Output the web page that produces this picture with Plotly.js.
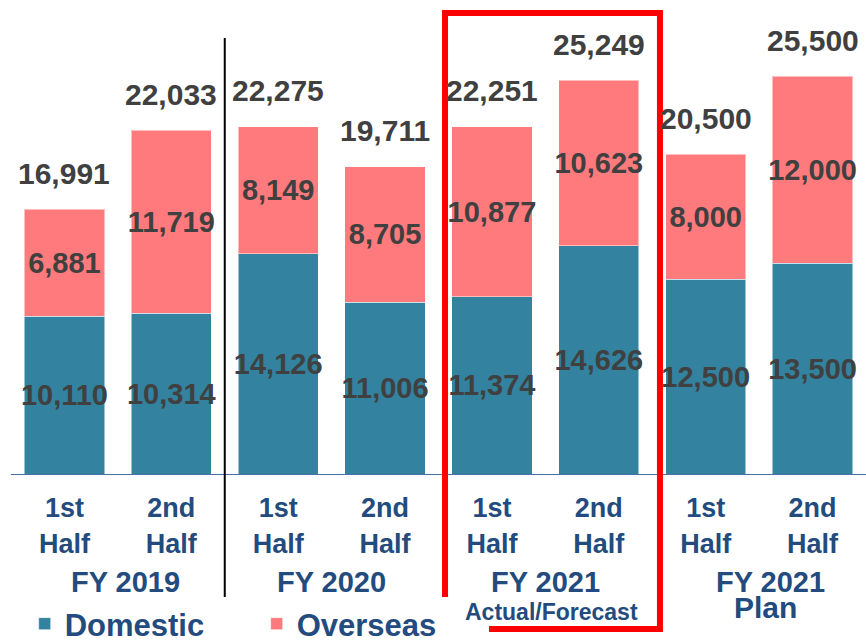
<!DOCTYPE html>
<html>
<head>
<meta charset="utf-8">
<script src="https://cdn.plot.ly/plotly-3.0.1.min.js"></script>
<style>body{margin:0;padding:0;background:#fff}#chart{width:866px;height:640px}</style>
</head>
<body>
<div id="chart"></div>
<script>
const categories = ["FY2019 1H","FY2019 2H","FY2020 1H","FY2020 2H","FY2021 1H","FY2021 2H","Plan 1H","Plan 2H"];
const tickLabels = ["1st<br>Half","2nd<br>Half","1st<br>Half","2nd<br>Half","1st<br>Half","2nd<br>Half","1st<br>Half","2nd<br>Half"];
const domestic = [10110, 10314, 14126, 11006, 11374, 14626, 12500, 13500];
const overseas = [6881, 11719, 8149, 8705, 10877, 10623, 8000, 12000];
const groupLabels = ["FY 2019","FY 2020","FY 2021","FY 2021"];
const groupSubLabels = ["","","Actual/Forecast","Plan"];
const seriesNames = ["Domestic","Overseas"];

const totals = domestic.map((d,i)=>d+overseas[i]);
const fmt = v => v.toLocaleString('en-US');

const FONT = "Liberation Sans, Arial, sans-serif";
const LABEL_GRAY = "#404040";
const NAVY = "#234B7E";

const traces = [
  {type:'bar', name:seriesNames[0], x:categories, y:domestic,
   marker:{color:'#33829F', line:{color:'rgba(255,255,255,0.5)', width:1}},
   text:domestic.map(fmt), textposition:'inside', insidetextanchor:'middle', constraintext:'none', textangle:0,
   textfont:{family:FONT, size:29, color:LABEL_GRAY, weight:'bold'}, hoverinfo:'skip'},
  {type:'bar', name:seriesNames[1], x:categories, y:overseas,
   marker:{color:'#FF7A7D', line:{color:'rgba(255,255,255,0.5)', width:1}},
   text:overseas.map(fmt), textposition:'inside', insidetextanchor:'middle', constraintext:'none', textangle:0,
   textfont:{family:FONT, size:29, color:LABEL_GRAY, weight:'bold'}, hoverinfo:'skip'}
];

const annotations = [];
totals.forEach((t,i)=>{
  annotations.push({xref:'x', yref:'y', x:i, y:t, text:fmt(t), showarrow:false,
    yanchor:'middle', yshift:36, font:{family:FONT, size:30, color:LABEL_GRAY, weight:'bold'}});
});
const groupCenters = [0.5, 2.5, 4.5, 6.5];
const groupShift = [8, 0, 0, 11];
groupLabels.forEach((g,i)=>{
  annotations.push({xref:'x', yref:'paper', x:groupCenters[i], xshift:groupShift[i], y:(474-582)/474, text:g, showarrow:false,
    yanchor:'middle', font:{family:FONT, size:29, color:NAVY, weight:'bold'}});
});
annotations.push({xref:'x', yref:'paper', x:4.5, xshift:6, y:(474-612)/474, text:groupSubLabels[2], showarrow:false,
  yanchor:'middle', font:{family:FONT, size:23, color:NAVY, weight:'bold'}});
annotations.push({xref:'x', yref:'paper', x:6.5, xshift:6, y:(474-608)/474, text:groupSubLabels[3], showarrow:false,
  yanchor:'middle', font:{family:FONT, size:30, color:NAVY, weight:'bold'}});

const layout = {
  width:866, height:640,
  margin:{l:11, r:0, t:0, b:166, autoexpand:false},
  barmode:'stack', bargap:0.25,
  paper_bgcolor:'#fff', plot_bgcolor:'#fff',
  font:{family:FONT},
  xaxis:{type:'category', tickvals:categories, ticktext:tickLabels, showline:true, linecolor:'#4A6FA5', linewidth:1,
    ticks:'', showgrid:false, zeroline:false, ticklabelstandoff:10, automargin:false,
    tickfont:{family:FONT, size:27, color:NAVY, weight:'bold'}, fixedrange:true},
  yaxis:{visible:false, range:[0, 474/(265/16991)], fixedrange:true, automargin:false},
  showlegend:true,
  legend:{orientation:'h', x:0.016, xanchor:'left', yref:'container', y:(640-624)/640, yanchor:'middle',
    font:{family:FONT, size:31, color:NAVY, weight:'bold'}, entrywidth:187, itemwidth:30, traceorder:'normal'},
  annotations:annotations,
  shapes:[
    {type:'line', xref:'x', yref:'paper', x0:1.5, x1:1.5, y0:(474-38)/474, y1:(474-597)/474,
     line:{color:'#000', width:2}},
    {type:'rect', xref:'x', yref:'paper', x0:3.561, x1:5.572, y0:(474-13)/474, y1:(474-629)/474,
     line:{color:'#FF0000', width:6}, fillcolor:'rgba(0,0,0,0)', layer:'above'}
  ]
};

Plotly.newPlot('chart', traces, layout, {displayModeBar:false, staticPlot:true});
</script>
</body>
</html>
